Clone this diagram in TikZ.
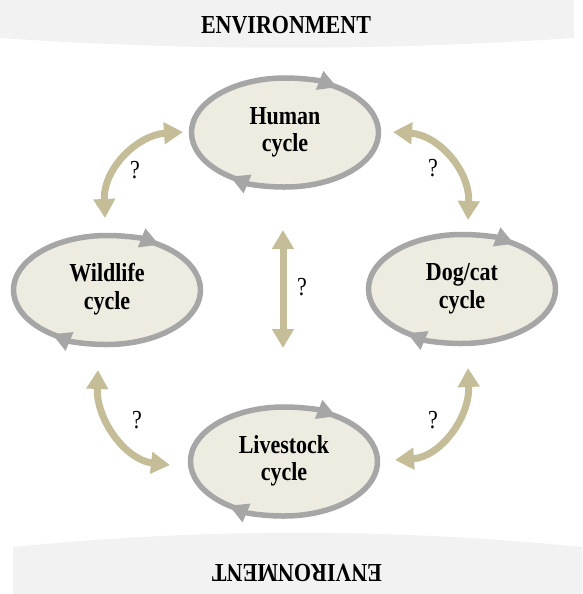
\documentclass[tikz,border=0pt]{standalone}
\usepackage{fontspec}
\setmainfont{Liberation Serif}
\usetikzlibrary{arrows.meta,shapes.geometric}
\definecolor{bandgray}{HTML}{F2F2F2}
\definecolor{ringgray}{HTML}{A6A6A6}
\definecolor{cycfill}{HTML}{EEECE1}
\definecolor{linktan}{HTML}{C4BD97}
\newcommand\vstretch[1]{\scalebox{1}[1.18]{#1}}
\newcommand\twoline[2]{\vstretch{\begin{tabular}{@{}c@{}}#1\\#2\end{tabular}}}
\newcommand\ringat[1]{%
  \draw[ring,-{Triangle[width=19pt,length=19pt]}] (#1.center) ++(118:93.5 and 54.5)
    arc[start angle=118,end angle=304,x radius=93.5,y radius=54.5];
  \draw[ring,-{Triangle[width=19pt,length=19pt]}] (#1.center) ++(296:93.5 and 54.5)
    arc[start angle=296,end angle=486,x radius=93.5,y radius=54.5];}
\tikzset{
  cyc/.style={ellipse, fill=cycfill, minimum width=190pt, minimum height=112pt,
    inner sep=0pt, font=\fontsize{22}{23}\selectfont\bfseries},
  ring/.style={draw=ringgray, line width=5.5pt},
  link/.style={draw=linktan, line width=7pt,
    {Triangle[width=21pt,length=19pt]}-{Triangle[width=21pt,length=19pt]}},
  qmark/.style={font=\fontsize{22}{24}\selectfont, inner sep=0pt},
  envlabel/.style={font=\fontsize{22}{24}\selectfont\bfseries, inner sep=0pt}
}
\begin{document}
\begin{tikzpicture}[x=1pt,y=-1pt]
\useasboundingbox (0,0) rectangle (582,594);
% environment bands
\fill[bandgray] (0,0) -- (574,0) -- (574,38) .. controls (383,51) and (191,51) .. (0,38) -- cycle;
\fill[bandgray] (13,594) -- (13,547) .. controls (203,528) and (392,528) .. (582,547) -- (582,594) -- cycle;
\node[envlabel] (envtop) at (286,25) {\vstretch{ENVIRONMENT}};
\node[envlabel, rotate=180] (envbot) at (297,573) {\vstretch{ENVIRONMENT}};
% cycles
\node[cyc] (human) at (285,132.5) {\twoline{Human}{cycle}};
\node[cyc] (wild) at (107,290) {\twoline{Wildlife}{cycle}};
\node[cyc] (dog) at (462,289) {\twoline{Dog/cat}{cycle}};
\node[cyc] (live) at (284,461.5) {\twoline{Livestock}{cycle}};
\ringat{human}
\ringat{wild}
\ringat{dog}
\ringat{live}
% link end points
\coordinate (tlA) at (105,218); \coordinate (tlB) at (183,132);
\coordinate (trA) at (393,132); \coordinate (trB) at (468,220);
\coordinate (blA) at (98,370);  \coordinate (blB) at (170,465);
\coordinate (brA) at (468,368); \coordinate (brB) at (395,460);
\coordinate (mA) at (283,230);  \coordinate (mB) at (283,348);
\draw[link] (tlA) .. controls (103,168) and (138,135) .. (tlB);
\draw[link] (trA) .. controls (438,135) and (470,170) .. (trB);
\draw[link] (blA) .. controls (96,420) and (126,460) .. (blB);
\draw[link] (brA) .. controls (470,418) and (440,457) .. (brB);
\draw[link] (mA) -- (mB);
% question marks
\node[qmark] (q1) at (135,170) {\vstretch{?}};
\node[qmark] (q2) at (433,168) {\vstretch{?}};
\node[qmark] (q3) at (137,420) {\vstretch{?}};
\node[qmark] (q4) at (433,420) {\vstretch{?}};
\node[qmark] (q5) at (302,287) {\vstretch{?}};
\end{tikzpicture}
\end{document}
